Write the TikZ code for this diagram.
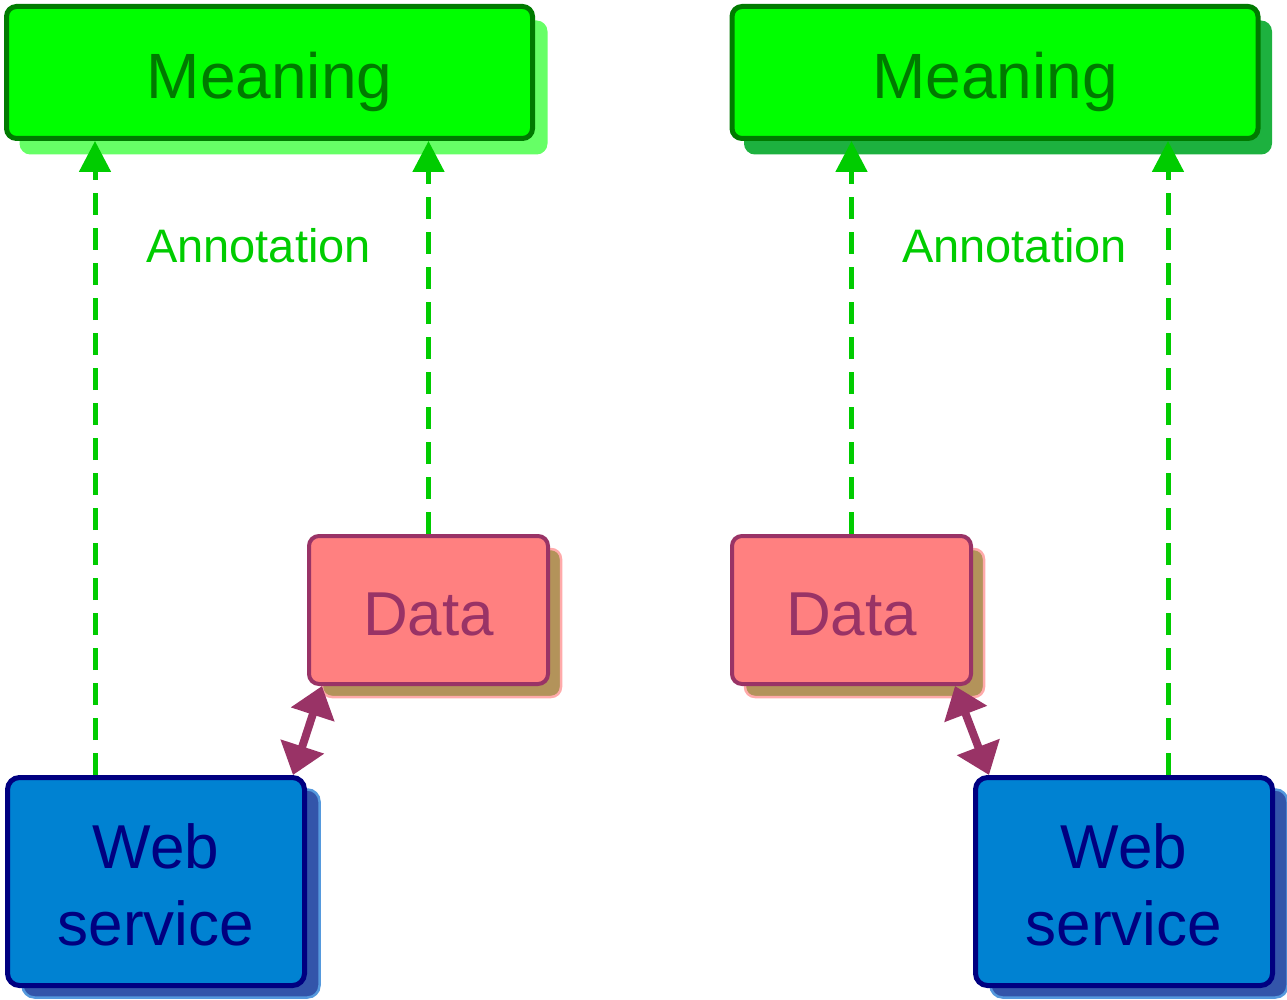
\documentclass[tikz,border=0pt]{standalone}
\usepackage{fontspec}
\setmainfont{Liberation Sans}
\usetikzlibrary{arrows.meta,shadows}
\definecolor{mfill}{HTML}{00FF00}
\definecolor{mdraw}{HTML}{007A00}
\definecolor{mshadowA}{HTML}{66FF66}
\definecolor{mshadowB}{HTML}{1DB13F}
\definecolor{anngreen}{HTML}{00CC00}
\definecolor{dfill}{HTML}{FF8080}
\definecolor{ddraw}{HTML}{993366}
\definecolor{dshadow}{HTML}{B3935A}
\definecolor{dshadowline}{HTML}{FFAAAA}
\definecolor{wfill}{HTML}{0082D2}
\definecolor{wdraw}{HTML}{000080}
\definecolor{wshadow}{HTML}{3355AA}
\definecolor{wshadowline}{HTML}{5599DD}
\tikzset{
  meaningbox/.style={draw=mdraw, fill=mfill, line width=5pt, rounded corners=10pt,
    minimum width=526pt, minimum height=132pt, inner sep=0pt,
    font=\fontsize{64}{77}\selectfont, text=mdraw, text height=53pt, text depth=0pt},
  databox/.style={draw=ddraw, fill=dfill, line width=4pt, rounded corners=10pt,
    minimum width=239pt, minimum height=148pt, inner sep=0pt,
    font=\fontsize{62}{77}\selectfont, text=ddraw, text height=50pt, text depth=0pt,
    copy shadow={shadow xshift=13pt, shadow yshift=-13pt, fill=dshadow, draw=dshadowline, line width=2.5pt, opacity=1}},
  webbox/.style={draw=wdraw, fill=wfill, line width=5pt, rounded corners=12pt,
    minimum width=297pt, minimum height=208pt, inner sep=0pt, align=center,
    font=\fontsize{62}{77}\selectfont, text=wdraw,
    copy shadow={shadow xshift=15pt, shadow yshift=-12pt, fill=wshadow, draw=wshadowline, line width=2.5pt, opacity=1}},
  ann/.style={draw=anngreen, line width=5pt, dash pattern=on 22pt off 13pt,
    -{Triangle[width=31pt,length=31pt]}},
  link/.style={draw=ddraw, line width=8pt,
    {Triangle[width=44pt,length=30pt]}-{Triangle[width=44pt,length=30pt]}},
  annlabel/.style={text=anngreen, font=\fontsize{47}{56}\selectfont, anchor=base, inner sep=0pt}
}
\begin{document}
\begin{tikzpicture}[x=1pt,y=-1pt]
\useasboundingbox (0,0) rectangle (1287,1000);
% left diagram
\node[meaningbox, copy shadow={shadow xshift=14pt, shadow yshift=-15pt, fill=mshadowA, draw=mshadowA, line width=2pt, opacity=1}] (m1) at (269.5,72.5) {Meaning};
\node[databox] (d1) at (428.5,610) {Data};
\node[webbox] (w1) at (156,881.5) {\rule{0pt}{52pt}Web\\service};
\coordinate (a1) at (95,0);
\draw[ann] (w1.north -| a1) -- (m1.south -| a1);
\draw[ann] (d1.north) -- (m1.south -| d1.north);
\node[annlabel] (t1) at (258.5,262) {Annotation};
\draw[link] ([xshift=15pt]d1.south west) -- ([xshift=-14pt]w1.north east);
% right diagram
\node[meaningbox, copy shadow={shadow xshift=13pt, shadow yshift=-15pt, fill=mshadowB, draw=mshadowB, line width=2pt, opacity=1}] (m2) at (995,72.5) {Meaning};
\node[databox] (d2) at (851.5,610) {Data};
\node[webbox] (w2) at (1124,881.5) {\rule{0pt}{52pt}Web\\service};
\coordinate (a2) at (1168,0);
\draw[ann] (d2.north) -- (m2.south -| d2.north);
\draw[ann] (w2.north -| a2) -- (m2.south -| a2);
\node[annlabel] (t2) at (1014.5,262) {Annotation};
\draw[link] ([xshift=-18pt]d2.south east) -- ([xshift=16pt]w2.north west);
\end{tikzpicture}
\end{document}
